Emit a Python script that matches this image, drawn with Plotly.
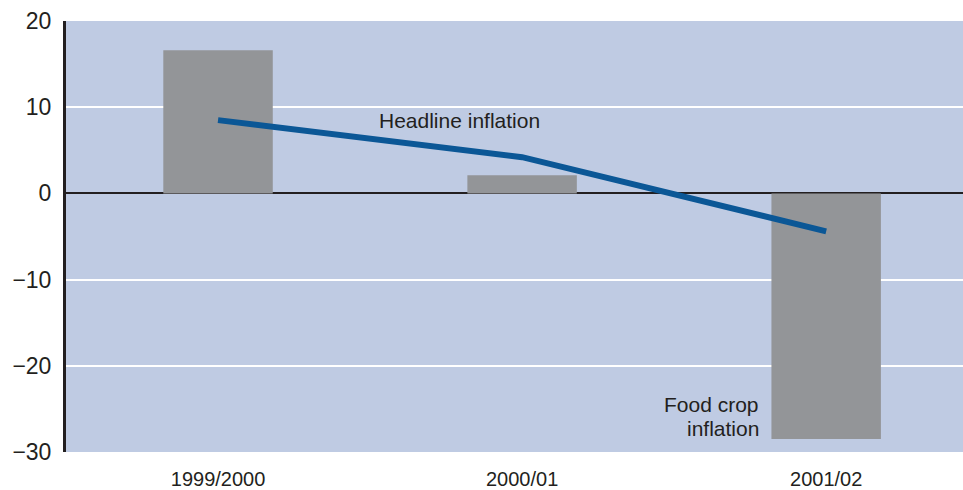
import plotly.graph_objects as go

years = ["1999/2000", "2000/01", "2001/02"]
food_crop_inflation = [16.6, 2.1, -28.5]
headline_inflation = [8.5, 4.2, -4.4]
y_ticks = [20, 10, 0, -10, -20, -30]
y_tick_labels = ["20", "10", "0", "\u221210", "\u221220", "\u221230"]

TEXT = "#231f20"
FONT = "Liberation Sans, Arial"

fig = go.Figure()
fig.add_trace(go.Bar(
    x=years, y=food_crop_inflation, width=0.36,
    marker=dict(color="#939598", line=dict(width=0)),
    showlegend=False,
))
fig.add_trace(go.Scatter(
    x=years, y=headline_inflation, mode="lines",
    line=dict(color="#0b5796", width=6),
    showlegend=False,
))

fig.add_annotation(x=0.795, y=8.4, text="Headline inflation", showarrow=False,
                   xanchor="center", yanchor="middle",
                   font=dict(size=21, color=TEXT, family=FONT))
fig.add_annotation(x=1.786, y=-24.5, text="Food crop", showarrow=False,
                   xanchor="right", yanchor="middle",
                   font=dict(size=21, color=TEXT, family=FONT))
fig.add_annotation(x=1.786, y=-27.3, text="inflation", showarrow=False,
                   xanchor="right", yanchor="middle",
                   font=dict(size=21, color=TEXT, family=FONT))

fig.update_layout(
    width=963, height=490,
    margin=dict(l=66, r=0, t=21, b=38),
    paper_bgcolor="white",
    plot_bgcolor="#bfcbe3",
    font=dict(family=FONT, color=TEXT),
    xaxis=dict(
        type="category", range=[-0.5, 2.45], automargin=False,
        showgrid=False, zeroline=False, showline=False,
        ticks="", ticklabelstandoff=13,
        tickfont=dict(size=20, color=TEXT),
    ),
    yaxis=dict(
        range=[-30, 20], tickvals=y_ticks, ticktext=y_tick_labels,
        automargin=False,
        showgrid=True, gridcolor="white", gridwidth=2,
        zeroline=True, zerolinecolor=TEXT, zerolinewidth=2,
        showline=True, linecolor=TEXT, linewidth=3,
        ticks="", ticklabelstandoff=7,
        tickfont=dict(size=23, color=TEXT),
    ),
)

fig.write_html("out.html")
